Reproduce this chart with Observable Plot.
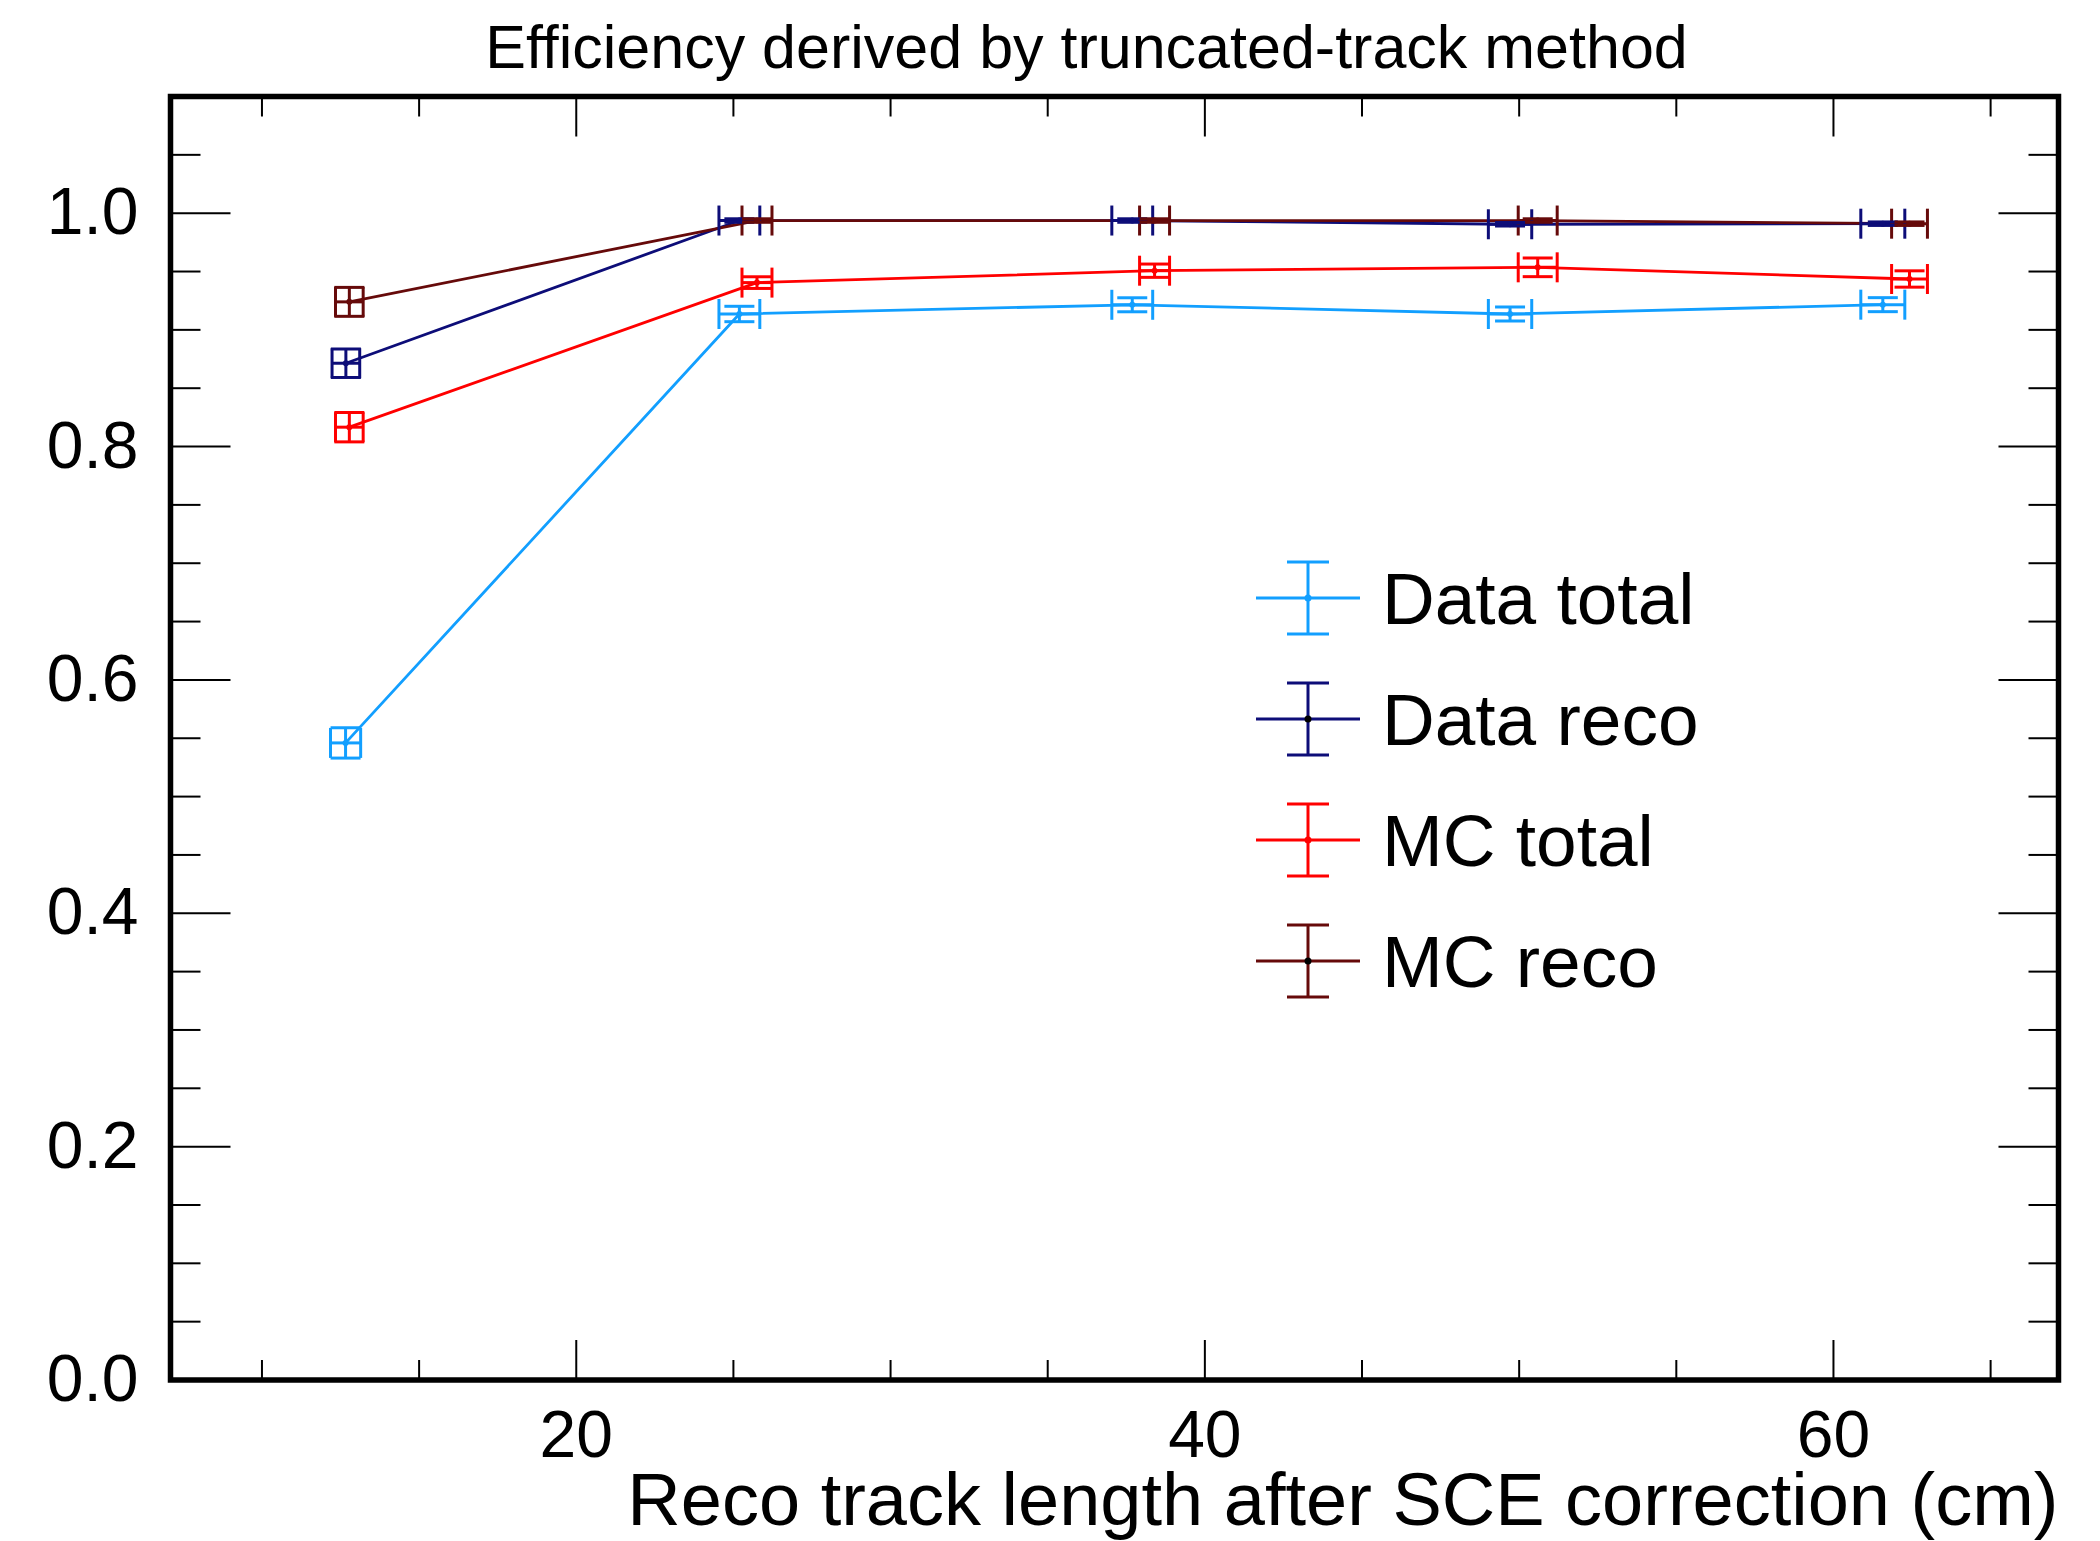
<!DOCTYPE html>
<html>
<head>
<meta charset="utf-8">
<script src="https://cdn.jsdelivr.net/npm/d3@7"></script>
<script src="https://cdn.jsdelivr.net/npm/@observablehq/plot@0.6"></script>
<style>
  html, body { margin: 0; padding: 0; background: #ffffff; }
  #chart svg { display: block; }
</style>
</head>
<body>
<div id="chart"></div>
<script>
// ---- Series and measured efficiencies (x in cm, errors are half-widths) ----
const series = ["Data total", "Data reco", "MC total", "MC reco"];
const colors = ["#129fff", "#0d0d78", "#ff0000", "#660a0a"];

const dataTotalX    = [12.66, 25.19, 37.69, 49.71, 61.57];
const dataTotalXErr = [0.48, 0.65, 0.65, 0.69, 0.70];
const dataTotalY    = [0.546, 0.9136, 0.9215, 0.9136, 0.9216];
const dataTotalYErr = [0.013, 0.0066, 0.006, 0.006, 0.006];

const dataRecoX     = [12.67, 25.19, 37.69, 49.71, 61.57];
const dataRecoXErr  = [0.44, 0.65, 0.65, 0.69, 0.70];
const dataRecoY     = [0.8714, 0.9937, 0.9937, 0.9905, 0.991];
const dataRecoYErr  = [0.0122, 0.0015, 0.0015, 0.0015, 0.0015];

const mcTotalX      = [12.78, 25.75, 38.40, 50.59, 62.42];
const mcTotalXErr   = [0.44, 0.477, 0.477, 0.62, 0.57];
const mcTotalY      = [0.8166, 0.9405, 0.9507, 0.9536, 0.9436];
const mcTotalYErr   = [0.0126, 0.005, 0.0057, 0.008, 0.007];

const mcRecoX       = [12.78, 25.75, 38.40, 50.59, 62.42];
const mcRecoXErr    = [0.44, 0.477, 0.477, 0.62, 0.57];
const mcRecoY       = [0.924, 0.9937, 0.9937, 0.9937, 0.991];
const mcRecoYErr    = [0.0124, 0.0015, 0.0015, 0.0015, 0.0015];

// ---- Axis ticks ----
const xMajorTicks = [20, 40, 60];
const xMinorTicks = [10, 15, 25, 30, 35, 45, 50, 55, 65];
const yMajorTicks = [0, 0.2, 0.4, 0.6, 0.8, 1.0];
const yMinorTicks = [0.05, 0.1, 0.15, 0.25, 0.3, 0.35, 0.45, 0.5, 0.55, 0.65, 0.7, 0.75, 0.85, 0.9, 0.95, 1.05];
const yTickLabels = ["0.0", "0.2", "0.4", "0.6", "0.8", "1.0"];

const titleText = "Efficiency derived by truncated-track method";
const xTitleText = "Reco track length after SCE correction (cm)";

// ---- Build a tidy table ----
const columns = [
  [dataTotalX, dataTotalXErr, dataTotalY, dataTotalYErr],
  [dataRecoX, dataRecoXErr, dataRecoY, dataRecoYErr],
  [mcTotalX, mcTotalXErr, mcTotalY, mcTotalYErr],
  [mcRecoX, mcRecoXErr, mcRecoY, mcRecoYErr]
];
const rows = series.flatMap((s, i) => {
  const [xs, exs, ys, eys] = columns[i];
  return xs.map((x, j) => ({series: s, x, ex: exs[j], y: ys[j], ey: eys[j]}));
});

// Line-shaped symbols for error-bar end caps and axis ticks (r = half length)
const hbar = {draw(ctx, size) { const r = Math.sqrt(size / Math.PI); ctx.moveTo(-r, 0); ctx.lineTo(r, 0); }};
const vbar = {draw(ctx, size) { const r = Math.sqrt(size / Math.PI); ctx.moveTo(0, -r); ctx.lineTo(0, r); }};

const font = "'Liberation Sans', Arial, Helvetica, sans-serif";
const W = 2100, H = 1541;
const mLeft = 170, mRight = 42, mTop = 96, mBottom = 161.5;
const capHalf = 15, lw = 3;

const chart = Plot.plot({
  width: W,
  height: H,
  marginLeft: mLeft,
  marginRight: mRight,
  marginTop: mTop,
  marginBottom: mBottom,
  style: {fontFamily: font, background: "#ffffff"},
  x: {domain: [7.09, 67.16], axis: null},
  y: {domain: [0, 1.1], axis: null},
  color: {domain: series, range: colors},
  marks: [
    // connecting lines
    Plot.line(rows, {x: "x", y: "y", z: "series", stroke: "series", strokeWidth: 2.8}),
    // horizontal (x) error bars
    Plot.ruleY(rows, {y: "y", x1: d => d.x - d.ex, x2: d => d.x + d.ex, stroke: "series", strokeWidth: lw}),
    // vertical (y) error bars
    Plot.ruleX(rows, {x: "x", y1: d => d.y - d.ey, y2: d => d.y + d.ey, stroke: "series", strokeWidth: lw}),
    // end ticks of x errors
    Plot.dot(rows, {x: d => d.x - d.ex, y: "y", symbol: vbar, r: capHalf, fill: "none", stroke: "series", strokeWidth: lw}),
    Plot.dot(rows, {x: d => d.x + d.ex, y: "y", symbol: vbar, r: capHalf, fill: "none", stroke: "series", strokeWidth: lw}),
    // caps of y errors
    Plot.dot(rows, {x: "x", y: d => d.y - d.ey, symbol: hbar, r: capHalf, fill: "none", stroke: "series", strokeWidth: lw}),
    Plot.dot(rows, {x: "x", y: d => d.y + d.ey, symbol: hbar, r: capHalf, fill: "none", stroke: "series", strokeWidth: lw}),
    // point markers
    Plot.dot(rows, {x: "x", y: "y", r: 3, fill: "series"}),

    // inward ticks on all four sides
    Plot.dot(xMajorTicks, {x: d => d, frameAnchor: "bottom", symbol: vbar, r: 20, dy: -20, stroke: "black", strokeWidth: 2}),
    Plot.dot(xMinorTicks, {x: d => d, frameAnchor: "bottom", symbol: vbar, r: 10, dy: -10, stroke: "black", strokeWidth: 2}),
    Plot.dot(xMajorTicks, {x: d => d, frameAnchor: "top", symbol: vbar, r: 20, dy: 20, stroke: "black", strokeWidth: 2}),
    Plot.dot(xMinorTicks, {x: d => d, frameAnchor: "top", symbol: vbar, r: 10, dy: 10, stroke: "black", strokeWidth: 2}),
    Plot.dot(yMajorTicks, {y: d => d, frameAnchor: "left", symbol: hbar, r: 30, dx: 30, stroke: "black", strokeWidth: 2}),
    Plot.dot(yMinorTicks, {y: d => d, frameAnchor: "left", symbol: hbar, r: 15, dx: 15, stroke: "black", strokeWidth: 2}),
    Plot.dot(yMajorTicks, {y: d => d, frameAnchor: "right", symbol: hbar, r: 30, dx: -30, stroke: "black", strokeWidth: 2}),
    Plot.dot(yMinorTicks, {y: d => d, frameAnchor: "right", symbol: hbar, r: 15, dx: -15, stroke: "black", strokeWidth: 2}),

    // tick labels
    Plot.text(yMajorTicks, {y: d => d, text: (d, i) => yTickLabels[i], frameAnchor: "left", textAnchor: "end", dx: -32, fontSize: 66, fill: "black"}),
    Plot.text(xMajorTicks, {x: d => d, text: d => String(d), frameAnchor: "bottom", dy: 77, fontSize: 66, fill: "black"}),

    // titles
    Plot.text([titleText], {text: d => d, frameAnchor: "top", lineAnchor: "bottom", dx: -28, dy: -29, fontSize: 61, fill: "black"}),
    Plot.text([xTitleText], {text: d => d, frameAnchor: "bottom-right", textAnchor: "end", lineAnchor: "bottom", dy: 145, fontSize: 74, fill: "black"}),

    Plot.frame({stroke: "black", strokeWidth: 5.5})
  ]
});

document.getElementById("chart").appendChild(chart);

// ---- Legend inside the frame ----
const legendCx = 1308, legendTop = 598, legendStep = 121;
const legendHalfW = 52, legendHalfH = 36, legendCap = 21, legendTextX = 1382, legendFont = 73;
const svg = d3.select(chart);
const legend = svg.append("g").attr("font-family", font).attr("text-anchor", "start");
series.forEach((s, i) => {
  const cy = legendTop + i * legendStep;
  const c = colors[i];
  const g = legend.append("g").attr("stroke", c).attr("stroke-width", lw).attr("fill", "none");
  g.append("line").attr("x1", legendCx - legendHalfW).attr("x2", legendCx + legendHalfW).attr("y1", cy).attr("y2", cy);
  g.append("line").attr("x1", legendCx).attr("x2", legendCx).attr("y1", cy - legendHalfH).attr("y2", cy + legendHalfH);
  g.append("line").attr("x1", legendCx - legendCap).attr("x2", legendCx + legendCap).attr("y1", cy - legendHalfH).attr("y2", cy - legendHalfH);
  g.append("line").attr("x1", legendCx - legendCap).attr("x2", legendCx + legendCap).attr("y1", cy + legendHalfH).attr("y2", cy + legendHalfH);
  legend.append("circle").attr("cx", legendCx).attr("cy", cy).attr("r", 3.5).attr("fill", i === 0 || i === 2 ? c : "#000000");
  legend.append("text").attr("x", legendTextX).attr("y", cy + 0.36 * legendFont)
    .attr("text-anchor", "start").attr("font-size", legendFont).attr("fill", "black").text(s);
});
</script>
</body>
</html>
